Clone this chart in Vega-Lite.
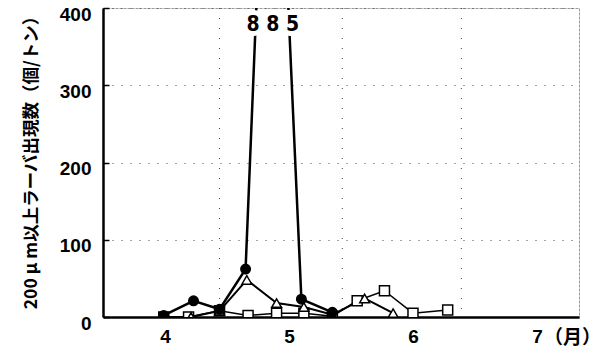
{
  "$schema": "https://vega.github.io/schema/vega-lite/v6.json",
  "width": 476,
  "height": 309,
  "autosize": {"type": "none"},
  "padding": {"left": 103, "top": 8, "right": 26, "bottom": 31},
  "background": "white",
  "config": {
    "view": {"stroke": "#9a9a9a", "strokeWidth": 1, "strokeDash": [3, 1]},
    "font": "Liberation Sans"
  },
  "datasets": {
    "series": [
      {"month": 3.99, "count": 0, "series": "C"},
      {"month": 4.19, "count": 0, "series": "C"},
      {"month": 4.44, "count": 8, "series": "C"},
      {"month": 4.67, "count": 2, "series": "C"},
      {"month": 4.9, "count": 5, "series": "C"},
      {"month": 5.12, "count": 5, "series": "C"},
      {"month": 5.35, "count": 1, "series": "C"},
      {"month": 5.55, "count": 21, "series": "C"},
      {"month": 5.77, "count": 34, "series": "C"},
      {"month": 6.0, "count": 5, "series": "C"},
      {"month": 6.28, "count": 9, "series": "C"},
      {"month": 3.99, "count": 0, "series": "B"},
      {"month": 4.21, "count": 0, "series": "B"},
      {"month": 4.44, "count": 8, "series": "B"},
      {"month": 4.66, "count": 48, "series": "B"},
      {"month": 4.9, "count": 18, "series": "B"},
      {"month": 5.12, "count": 13, "series": "B"},
      {"month": 5.35, "count": 3, "series": "B"},
      {"month": 5.61, "count": 24, "series": "B"},
      {"month": 5.84, "count": 5, "series": "B"},
      {"month": 3.99, "count": 2, "series": "A"},
      {"month": 4.23, "count": 21, "series": "A"},
      {"month": 4.44, "count": 10, "series": "A"},
      {"month": 4.65, "count": 62, "series": "A"},
      {"month": 4.86, "count": 885, "series": "A"},
      {"month": 5.1, "count": 23, "series": "A"},
      {"month": 5.35, "count": 6, "series": "A"}
    ],
    "grid": [{"g": 4.44}, {"g": 5.43}, {"g": 6.39}],
    "peak": [{"month": 4.87, "count": 378, "label": "8 8 5"}]
  },
  "layer": [
    {
      "data": {"name": "grid"},
      "mark": {"type": "rule", "color": "#444", "strokeWidth": 1, "strokeDash": [1, 9]},
      "encoding": {
        "x": {"field": "g", "type": "quantitative", "scale": {"domain": [3.5, 7.339], "nice": false, "zero": false}}
      }
    },
    {
      "data": {"name": "series"},
      "mark": {"type": "line", "clip": true, "color": "black"},
      "encoding": {
        "x": {"field": "month", "type": "quantitative",
          "scale": {"domain": [3.5, 7.339], "nice": false, "zero": false},
          "axis": {
            "values": [4, 5, 6, 7], "format": "d", "grid": false, "ticks": false,
            "domainColor": "black", "domainWidth": 2.5,
            "labelFont": "Liberation Sans", "labelFontWeight": "bold", "labelFontSize": 19,
            "labelColor": "black", "labelPadding": 10,
            "title": "（月）", "titleFont": "Noto Sans CJK JP", "titleFontWeight": "bold",
            "titleFontSize": 19, "titleColor": "black",
            "titleX": 469, "titleY": 26, "titleBaseline": "alphabetic", "titleAlign": "center"
          }
        },
        "y": {"field": "count", "type": "quantitative",
          "scale": {"domain": [0, 400], "nice": false},
          "axis": {
            "values": [0, 100, 200, 300, 400], "grid": true,
            "gridColor": "#444", "gridDash": [1, 8], "gridWidth": 1,
            "tickSize": -6, "tickColor": "black", "tickWidth": 1.5,
            "domainColor": "black", "domainWidth": 2.5,
            "labelFont": "Liberation Sans", "labelFontWeight": "bold", "labelFontSize": 19,
            "labelColor": "black", "labelPadding": 18, "labelOffset": 6,
            "title": "200 μ m以上ラーバ出現数（個/トン）",
            "titleFont": "Noto Sans CJK JP", "titleFontWeight": "bold", "titleFontSize": 17.5,
            "titleColor": "black", "titleX": -72, "titleY": 150, "titleBaseline": "middle", "titleLimit": 500
          }
        },
        "detail": {"field": "series"},
        "strokeWidth": {"field": "series", "type": "nominal",
          "scale": {"domain": ["A", "B", "C"], "range": [2.5, 1.5, 1.5]}, "legend": null}
      }
    },
    {
      "data": {"name": "series"},
      "mark": {"type": "point", "clip": true, "stroke": "black", "strokeWidth": 1.5, "opacity": 1},
      "encoding": {
        "x": {"field": "month", "type": "quantitative"},
        "y": {"field": "count", "type": "quantitative"},
        "shape": {"field": "series", "type": "nominal",
          "scale": {"domain": ["A", "B", "C"], "range": ["circle", "triangle-up", "square"]}, "legend": null},
        "fill": {"field": "series", "type": "nominal",
          "scale": {"domain": ["A", "B", "C"], "range": ["black", "white", "white"]}, "legend": null},
        "size": {"field": "series", "type": "nominal",
          "scale": {"domain": ["A", "B", "C"], "range": [90, 100, 120]}, "legend": null}
      }
    },
    {
      "data": {"name": "peak"},
      "mark": {"type": "text", "font": "DejaVu Sans Condensed", "fontWeight": "bold", "fontSize": 21,
        "stroke": "white", "strokeWidth": 10, "fill": "white", "baseline": "middle"},
      "encoding": {
        "x": {"field": "month", "type": "quantitative"},
        "y": {"field": "count", "type": "quantitative"},
        "text": {"field": "label"}
      }
    },
    {
      "data": {"name": "peak"},
      "mark": {"type": "text", "font": "DejaVu Sans Condensed", "fontWeight": "bold", "fontSize": 21,
        "fill": "black", "baseline": "middle"},
      "encoding": {
        "x": {"field": "month", "type": "quantitative"},
        "y": {"field": "count", "type": "quantitative"},
        "text": {"field": "label"}
      }
    }
  ]
}
